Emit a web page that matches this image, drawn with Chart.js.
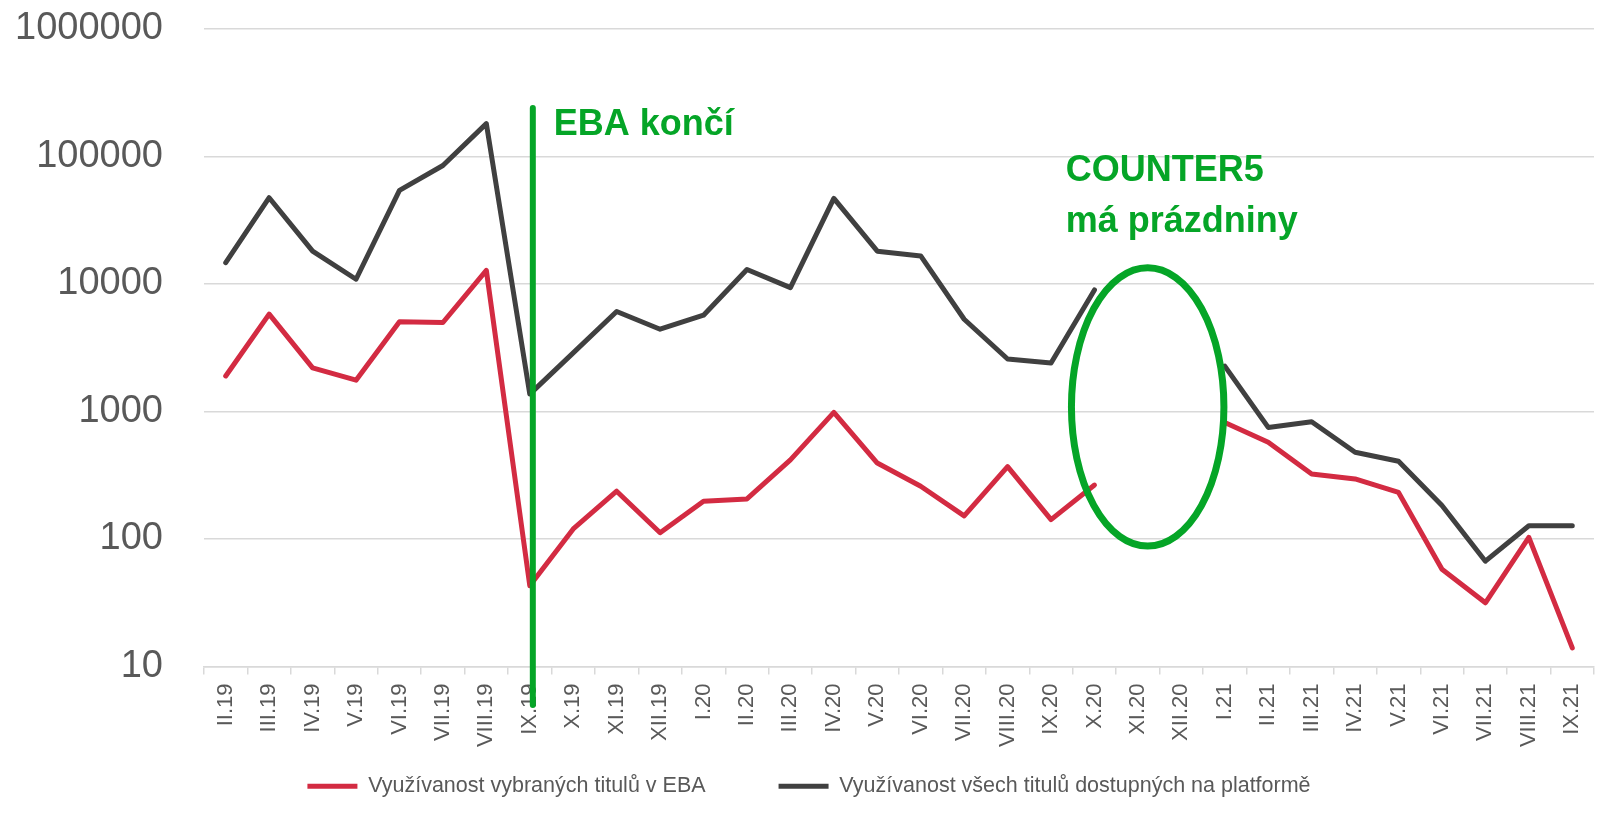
<!DOCTYPE html>
<html>
<head>
<meta charset="utf-8">
<script src="https://cdn.jsdelivr.net/npm/chart.js@4/dist/chart.umd.min.js"></script>
<style>
  html, body { margin: 0; padding: 0; background: #ffffff; }
  #wrap { width: 1600px; height: 819px; }
</style>
</head>
<body>
<div id="wrap"><canvas id="chart" width="1600" height="819"></canvas></div>
<script>
const months = [
    "II.19", "III.19", "IV.19", "V.19", "VI.19", "VII.19", "VIII.19", "IX.19",
    "X.19", "XI.19", "XII.19", "I.20", "II.20", "III.20", "IV.20", "V.20",
    "VI.20", "VII.20", "VIII.20", "IX.20", "X.20", "XI.20", "XII.20", "I.21",
    "II.21", "III.21", "IV.21", "V.21", "VI.21", "VII.21", "VIII.21", "IX.21"
];

// využívanost vybraných titulů v EBA
const ebaTitles = [
    1900, 5800, 2200, 1760, 5050, 4990, 12800, 43,
    120, 237, 112, 198, 206, 417, 985, 394,
    259, 152, 369, 142, 265, null, null, 820,
    573, 324, 296, 232, 58, 31.6, 103, 14
];

// využívanost všech titulů na platformě
const allTitles = [
    14700, 47500, 18100, 10900, 54200, 85000, 181000, 1370,
    2880, 6080, 4420, 5690, 13000, 9370, 46900, 18100,
    16600, 5290, 2580, 2400, 8980, null, null, 2270,
    750, 830, 479, 407, 183, 67, 127, 127
];

const yTicks = [10, 100, 1000, 10000, 100000, 1000000];

const seriesNames = [
    "Využívanost vybraných titulů v EBA",
    "Využívanost všech titulů dostupných na platformě"
];

// poznámky v grafu (pozice v jednotkách os)
const ebaLine = { index: 7.07, from: 5, to: 240000 };
const ebaLabel = { text: "EBA končí", index: 7.55, value: 148000 };
const counterLabel = [
    { text: "COUNTER5", index: 19.34, value: 64100 },
    { text: "má prázdniny", index: 19.34, value: 25400 }
];
const holidayEllipse = { left: 19.47, right: 22.98, top: 13400, bottom: 88 };

const GREEN = "#05A527";
const FONT = "'Liberation Sans', Arial, sans-serif";

const notesPlugin = {
    id: "notes",
    afterDraw(chart) {
        const ctx = chart.ctx;
        const x = chart.scales.x;
        const y = chart.scales.y;
        ctx.save();

        ctx.strokeStyle = GREEN;
        ctx.lineCap = "round";
        ctx.lineWidth = 6;
        ctx.beginPath();
        ctx.moveTo(x.getPixelForValue(ebaLine.index), y.getPixelForValue(ebaLine.to));
        ctx.lineTo(x.getPixelForValue(ebaLine.index), y.getPixelForValue(ebaLine.from));
        ctx.stroke();

        const l = x.getPixelForValue(holidayEllipse.left);
        const r = x.getPixelForValue(holidayEllipse.right);
        const t = y.getPixelForValue(holidayEllipse.top);
        const b = y.getPixelForValue(holidayEllipse.bottom);
        ctx.lineWidth = 7;
        ctx.beginPath();
        ctx.ellipse((l + r) / 2, (t + b) / 2, (r - l) / 2, (b - t) / 2, 0, 0, Math.PI * 2);
        ctx.stroke();

        ctx.fillStyle = GREEN;
        ctx.font = "bold 36px " + FONT;
        ctx.textAlign = "left";
        ctx.textBaseline = "alphabetic";
        [ebaLabel, ...counterLabel].forEach(n => {
            ctx.fillText(n.text, x.getPixelForValue(n.index), y.getPixelForValue(n.value));
        });

        ctx.restore();
    }
};

new Chart(document.getElementById("chart"), {
    type: "line",
    data: {
        labels: months,
        datasets: [{
            label: seriesNames[0],
            data: ebaTitles,
            borderColor: "#D32B42",
            backgroundColor: "#D32B42",
            borderWidth: 5,
            borderCapStyle: "round",
            borderJoinStyle: "round",
            pointRadius: 0,
            spanGaps: false
        }, {
            label: seriesNames[1],
            data: allTitles,
            borderColor: "#404040",
            backgroundColor: "#404040",
            borderWidth: 5,
            borderCapStyle: "round",
            borderJoinStyle: "round",
            pointRadius: 0,
            spanGaps: false
        }]
    },
    options: {
        responsive: false,
        animation: false,
        layout: { padding: { top: 29, right: 6, bottom: 12, left: 24 } },
        scales: {
            x: {
                offset: true,
                grid: {
                    offset: true,
                    drawOnChartArea: false,
                    drawTicks: true,
                    tickLength: 8,
                    color: "#D9D9D9",
                    lineWidth: 1.5
                },
                border: { color: "#D9D9D9", width: 1.5 },
                ticks: {
                    autoSkip: false,
                    minRotation: 90,
                    maxRotation: 90,
                    padding: 9,
                    color: "#595959",
                    font: { family: FONT, size: 22 }
                },
                afterFit(scale) {
                    // the month labels hang down into the legend band, so do not clip them
                    scale.height = 36;
                    scale.paddingLeft = 0;
                    scale.paddingRight = 0;
                    scale._computeLabelArea = () => undefined;
                }
            },
            y: {
                type: "logarithmic",
                min: 10,
                max: 1000000,
                afterBuildTicks(scale) {
                    scale.ticks = yTicks.map(v => ({ value: v }));
                },
                grid: { color: "#D9D9D9", lineWidth: 1.5, drawTicks: false },
                border: { display: false },
                ticks: {
                    padding: 41,
                    color: "#595959",
                    font: { family: FONT, size: 38 },
                    callback: v => String(v)
                },
                afterFit(scale) {
                    scale.width = 180;
                    scale.paddingTop = 0;
                    scale.paddingBottom = 0;
                    scale._computeLabelArea = () => undefined;
                }
            }
        },
        plugins: {
            legend: {
                position: "bottom",
                labels: {
                    usePointStyle: true,
                    pointStyle: "line",
                    pointStyleWidth: 50,
                    padding: 73,
                    color: "#595959",
                    font: { family: FONT, size: 21.5 }
                }
            },
            tooltip: { enabled: false }
        }
    },
    plugins: [notesPlugin]
});
</script>
</body>
</html>
